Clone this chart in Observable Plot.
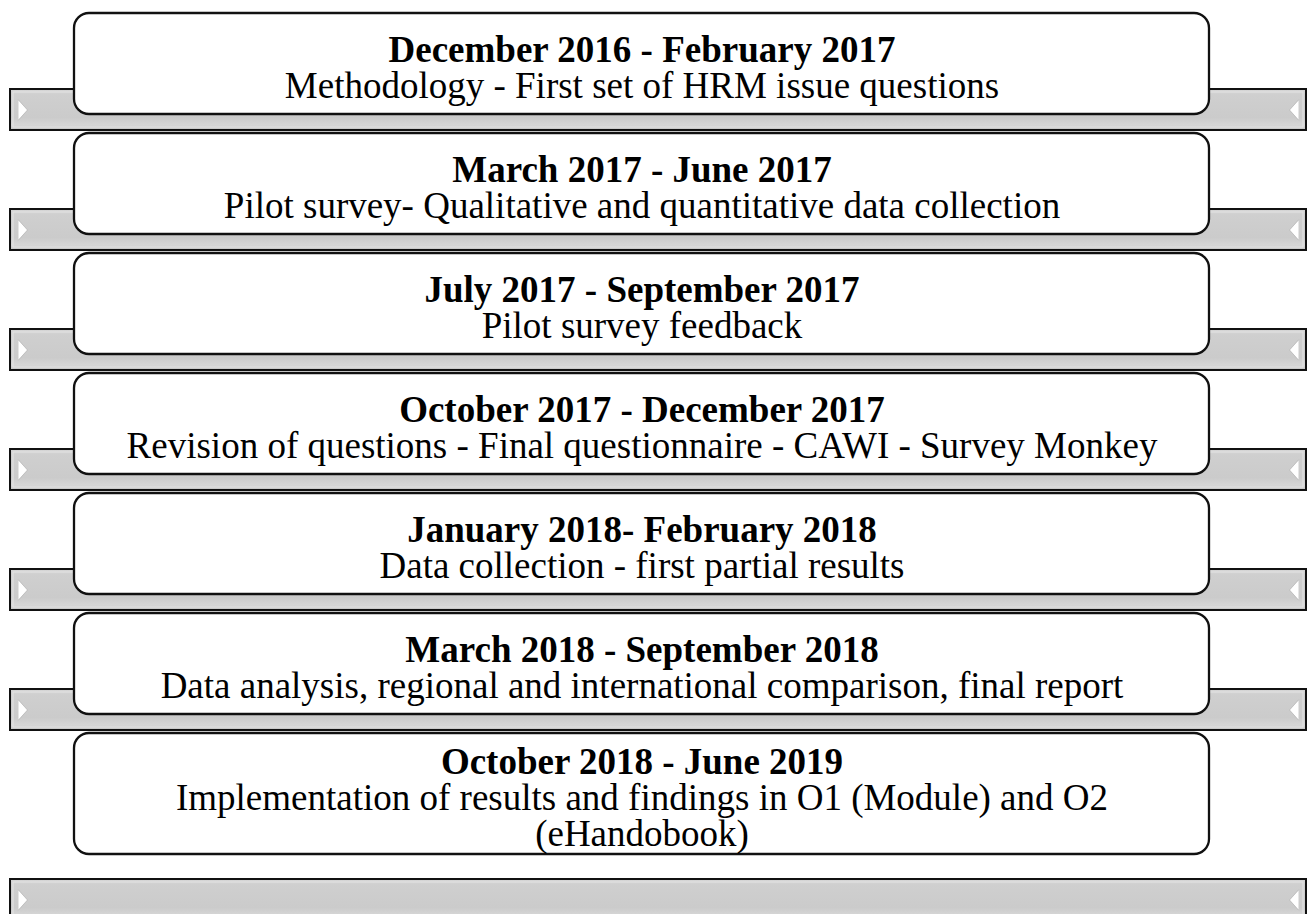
<!DOCTYPE html>
<html><head><meta charset="utf-8">
<script src="https://cdn.jsdelivr.net/npm/d3@7"></script>
<script src="https://cdn.jsdelivr.net/npm/@observablehq/plot@0.6"></script>
<style>html,body{margin:0;padding:0;background:#fff;} #chart svg{display:block;}</style>
</head><body><div id="chart"></div>
<script>
const periods = [
  "December 2016 - February 2017",
  "March 2017 - June 2017",
  "July 2017 - September 2017",
  "October 2017 - December 2017",
  "January 2018- February 2018",
  "March 2018 - September 2018",
  "October 2018 - June 2019"
];
const activities = [
  "Methodology - First set of HRM issue questions",
  "Pilot survey- Qualitative and quantitative data collection",
  "Pilot survey feedback",
  "Revision of questions - Final questionnaire - CAWI - Survey Monkey",
  "Data collection - first partial results",
  "Data analysis, regional and international comparison, final report",
  "Implementation of results and findings in O1 (Module) and O2\n(eHandobook)"
];

const W = 1312, H = 914;
const FS = 37, P = 36;
const BAR_X1 = 10, BAR_X2 = 1306, BOX_X1 = 74, BOX_X2 = 1209;
const FONT = "'Liberation Serif', 'Times New Roman', serif";

const rows = periods.map((period, i) => ({period, activity: activities[i], lines: activities[i].split("\n").length}));
let cursorY = 13;
rows.forEach((r, i) => {
  const h = 101 + 20 * (r.lines - 1);
  r.top = cursorY; r.bottom = cursorY + h; r.mid = cursorY + h / 2;
  const last = i === rows.length - 1;
  r.barTop = last ? r.bottom + 25 : r.bottom - 25;
  r.barBottom = r.barTop + 41;
  r.barMid = (r.barTop + r.barBottom) / 2;
  const n = r.lines + 1;
  r.titleY = r.mid + 16 - (n - 1) / 2 * P;
  r.actY = r.titleY + r.lines * P;
  cursorY += 120;
});

const plot = Plot.plot({
  width: W, height: H, margin: 0,
  x: {domain: [0, W], range: [0, W], axis: null},
  y: {domain: [0, H], range: [0, H], axis: null},
  marks: [
    Plot.rect(rows, {x1: () => BAR_X1, x2: () => BAR_X2, y1: "barTop", y2: "barBottom",
      fill: "url(#barGrad)", stroke: "#111", strokeWidth: 2}),
    Plot.rect(rows, {x1: () => BAR_X1 + 3, x2: () => BAR_X2 - 3, y1: d => d.barTop + 3, y2: d => d.barBottom - 3,
      fill: "none", stroke: "#e4e4e4", strokeWidth: 1.2, strokeOpacity: 0.9}),
    Plot.vector(rows, {x: () => BAR_X1 + 8, y: "barMid", rotate: 90, length: 9, r: 10, shape: "spike",
      anchor: "start", fill: "white", stroke: "#a8a8a8", strokeWidth: 0.6}),
    Plot.vector(rows, {x: () => BAR_X2 - 8, y: "barMid", rotate: -90, length: 9, r: 10, shape: "spike",
      anchor: "start", fill: "white", stroke: "#a8a8a8", strokeWidth: 0.6}),
    Plot.rect(rows, {x1: () => BOX_X1, x2: () => BOX_X2, y1: "top", y2: "bottom", rx: 15,
      fill: "white", stroke: "#111", strokeWidth: 2.3, ariaLabel: "boxes"}),
    Plot.text(rows, {x: () => (BOX_X1 + BOX_X2) / 2, y: "titleY", text: "period", lineAnchor: "bottom",
      fontFamily: FONT, fontSize: FS, fontWeight: "bold", fill: "black"}),
    Plot.text(rows, {x: () => (BOX_X1 + BOX_X2) / 2, y: "actY", text: "activity", lineAnchor: "bottom",
      lineHeight: P / FS, fontFamily: FONT, fontSize: FS, fill: "black"})
  ]
});

const svg = d3.select(plot);
const defs = svg.insert("defs", ":first-child");
const g = defs.append("linearGradient").attr("id", "barGrad").attr("x1", 0).attr("y1", 0).attr("x2", 0).attr("y2", 1);
[[0, "#d6d6d6"], [0.15, "#cfcfcf"], [0.7, "#cbcbcb"], [0.88, "#d6d6d6"], [1, "#c4c4c4"]]
  .forEach(([o, c]) => g.append("stop").attr("offset", o).attr("stop-color", c));
const f = defs.append("filter").attr("id", "shadow").attr("x", "-5%").attr("y", "-10%").attr("width", "110%").attr("height", "130%");
f.append("feDropShadow").attr("dx", 1.5).attr("dy", 3.5).attr("stdDeviation", 2.5).attr("flood-color", "#000").attr("flood-opacity", 0.38);
svg.select('g[aria-label="boxes"]').attr("filter", "url(#shadow)");

document.getElementById("chart").appendChild(plot);
</script>
</body></html>
